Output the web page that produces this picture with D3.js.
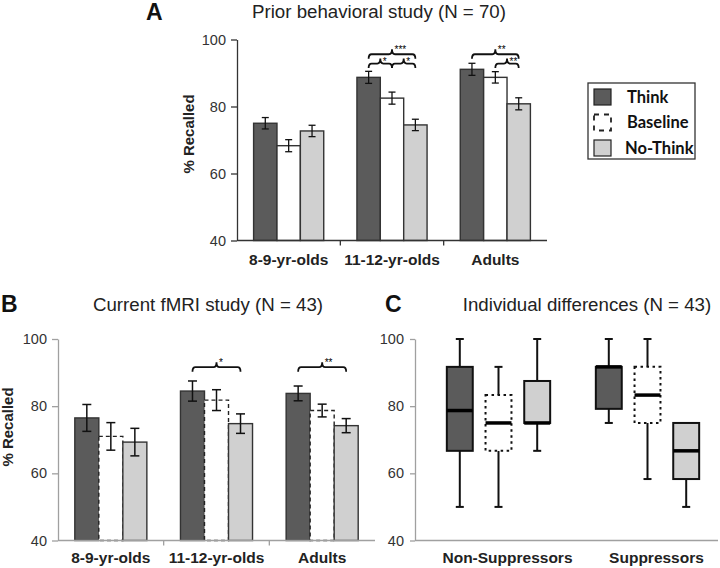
<!DOCTYPE html>
<html><head><meta charset="utf-8">
<script src="https://cdn.jsdelivr.net/npm/d3@7"></script>
<style>body{margin:0;background:#fff}svg{display:block}</style>
</head><body>
<svg id="chart" width="720" height="568"></svg>
<script>
// ---------- data ----------
const groups = ["8-9-yr-olds", "11-12-yr-olds", "Adults"];
const conditions = ["Think", "Baseline", "No-Think"];
const yTicks = [40, 60, 80, 100];

// Panel A: prior behavioral study (N = 70)
const priorThink = [75.0, 88.7, 91.1];
const priorBaseline = [68.3, 82.5, 88.7];
const priorNoThink = [72.7, 74.5, 80.8];
const priorThinkErr = [1.7, 1.8, 1.8];
const priorBaselineErr = [1.8, 1.8, 1.7];
const priorNoThinkErr = [1.7, 1.7, 1.8];
const priorSig = [
  {group: "11-12-yr-olds", from: "Think", to: "No-Think", level: 2, label: "***"},
  {group: "11-12-yr-olds", from: "Think", to: "Baseline", level: 1, label: "*"},
  {group: "11-12-yr-olds", from: "Baseline", to: "No-Think", level: 1, label: "*"},
  {group: "Adults", from: "Think", to: "No-Think", level: 2, label: "**"},
  {group: "Adults", from: "Baseline", to: "No-Think", level: 1, label: "**"}
];

// Panel B: current fMRI study (N = 43)
const fmriThink = [76.5, 84.5, 83.8];
const fmriBaseline = [71.0, 81.8, 78.7];
const fmriNoThink = [69.3, 74.8, 74.2];
const fmriThinkErr = [4.0, 3.0, 2.2];
const fmriBaselineErr = [4.1, 3.1, 1.9];
const fmriNoThinkErr = [4.1, 2.9, 2.1];
const fmriSig = [
  {group: "11-12-yr-olds", from: "Think", to: "No-Think", level: 2, label: "*"},
  {group: "Adults", from: "Think", to: "No-Think", level: 2, label: "**"}
];

// Panel C: individual differences, box plots [min, q1, median, q3, max]
const boxGroups = ["Non-Suppressors", "Suppressors"];
const boxThink = [[50, 66.7, 78.7, 91.7, 100], [75, 79.2, 91.7, 91.7, 100]];
const boxBaseline = [[50, 66.7, 75, 83.3, 91.7], [58.3, 75, 83.3, 91.7, 100]];
const boxNoThink = [[66.7, 75, 75, 87.5, 100], [50, 58.3, 66.7, 75, 75]];

// ---------- styles ----------
const fillColor = {"Think": "#5b5b5b", "Baseline": "#ffffff", "No-Think": "#d0d0d0"};
const svg = d3.select("#chart");
const SANS = "Liberation Sans, Arial, sans-serif";

function bracePath(x1, x2, y, drop, rise) {
  const xm = (x1 + x2) / 2, r = 3;
  return `M${x1},${y + drop} Q${x1},${y} ${x1 + r},${y} L${xm - r},${y} Q${xm},${y} ${xm},${y - rise}` +
         ` Q${xm},${y} ${xm + r},${y} L${x2 - r},${y} Q${x2},${y} ${x2},${y + drop}`;
}

function barPanel(o) {
  const g = svg.append("g");
  const y = d3.scaleLinear().domain([40, 100]).range([o.yBottom, o.yTop]);
  const x0 = d3.scaleBand().domain(groups).range([o.xLeft, o.xRight]).padding(0);
  const x1 = d3.scaleBand().domain(conditions).range([0, x0.bandwidth()]).paddingInner(0).paddingOuter(o.outerPad);

  const rows = [];
  groups.forEach((grp, i) => {
    conditions.forEach((c, j) => {
      rows.push({group: grp, cond: c, v: o.means[j][i], e: o.errs[j][i]});
    });
  });

  // bars
  g.selectAll("rect.bar").data(rows).join("rect")
    .attr("x", d => x0(d.group) + x1(d.cond))
    .attr("y", d => y(d.v))
    .attr("width", x1.bandwidth())
    .attr("height", d => y(40) - y(d.v))
    .attr("fill", d => fillColor[d.cond])
    .attr("stroke", d => (o.dashBaseline && d.cond === "Baseline") ? "#222" : "#333")
    .attr("stroke-width", 1.4)
    .attr("stroke-dasharray", d => (o.dashBaseline && d.cond === "Baseline") ? "4,3" : null);

  // error bars
  const cx = d => x0(d.group) + x1(d.cond) + x1.bandwidth() / 2;
  const cap = o.capHalf;
  const eb = g.selectAll("g.eb").data(rows).join("g").attr("stroke", "#111").attr("stroke-width", o.ebWidth);
  eb.append("line").attr("x1", cx).attr("x2", cx).attr("y1", d => y(d.v + d.e)).attr("y2", d => y(d.v - d.e));
  eb.append("line").attr("x1", d => cx(d) - cap).attr("x2", d => cx(d) + cap).attr("y1", d => y(d.v + d.e)).attr("y2", d => y(d.v + d.e));
  eb.append("line").attr("x1", d => cx(d) - cap).attr("x2", d => cx(d) + cap).attr("y1", d => y(d.v - d.e)).attr("y2", d => y(d.v - d.e));

  // y axis
  const ya = g.append("g").attr("transform", `translate(${o.xLeft},0)`)
    .call(d3.axisLeft(y).tickValues(yTicks).tickSize(6).tickSizeOuter(0).tickPadding(5));
  ya.select(".domain").attr("stroke", o.axisColor).attr("stroke-width", 1.3);
  ya.selectAll(".tick line").attr("stroke", o.axisColor).attr("stroke-width", 1.3);
  ya.selectAll(".tick text").attr("font-family", SANS).attr("font-size", 14.5).attr("fill", "#333");

  // x axis
  g.append("line").attr("x1", o.xLeft).attr("x2", o.xRight).attr("y1", y(40)).attr("y2", y(40))
    .attr("stroke", o.axisColor).attr("stroke-width", 1.3);
  g.selectAll("line.xt").data(groups.slice(1)).join("line")
    .attr("x1", d => x0(d)).attr("x2", d => x0(d)).attr("y1", y(40)).attr("y2", y(40) + 5)
    .attr("stroke", o.axisColor).attr("stroke-width", 1.3);
  g.selectAll("text.cat").data(groups).join("text")
    .attr("x", d => x0(d) + x0.bandwidth() / 2).attr("y", o.catY)
    .attr("text-anchor", "middle").attr("font-family", SANS).attr("font-weight", "bold")
    .attr("font-size", 15.5).attr("fill", "#222").text(d => d);

  // y label
  g.append("text").attr("transform", `translate(${o.ylabX},${o.ylabY}) rotate(-90)`)
    .attr("text-anchor", "middle").attr("font-family", SANS).attr("font-weight", "bold")
    .attr("font-size", 15).attr("fill", "#222").text("% Recalled");

  // significance braces
  const levelVal = {1: o.sigLevel1, 2: o.sigLevel2};
  const bc = (grp, c) => x0(grp) + x1(c) + x1.bandwidth() / 2;
  o.sig.forEach(s => {
    const xa = bc(s.group, s.from), xb = bc(s.group, s.to), yy = y(levelVal[s.level]);
    g.append("path").attr("d", bracePath(xa, xb, yy, 4.5, 5))
      .attr("fill", "none").attr("stroke", "#111").attr("stroke-width", 1.8);
    g.append("text").attr("x", (xa + xb) / 2 + 2.5).attr("y", yy + (s.level === 2 ? -1 : 1.5))
      .attr("font-family", SANS).attr("font-size", 10).attr("fill", "#000").text(s.label);
  });
  return {x0, x1, y};
}

// ---------- Panel A ----------
barPanel({
  xLeft: 237, xRight: 547, yTop: 39.5, yBottom: 240.5, outerPad: 0.71,
  means: [priorThink, priorBaseline, priorNoThink],
  errs: [priorThinkErr, priorBaselineErr, priorNoThinkErr],
  dashBaseline: false, axisColor: "#333", catY: 265, ylabX: 194, ylabY: 134,
  capHalf: 3.5, ebWidth: 1.3,
  sig: priorSig, sigLevel1: 92.8, sigLevel2: 95.6
});
svg.append("text").attr("x", 146).attr("y", 20).attr("font-family", SANS).attr("font-weight", "bold")
  .attr("font-size", 23).attr("fill", "#111").text("A");
svg.append("text").attr("x", 379).attr("y", 18).attr("text-anchor", "middle").attr("font-family", SANS)
  .attr("font-size", 18.7).attr("fill", "#222").text("Prior behavioral study (N = 70)");

// legend
const leg = svg.append("g");
leg.append("rect").attr("x", 588).attr("y", 83).attr("width", 107).attr("height", 76)
  .attr("fill", "#fff").attr("stroke", "#333").attr("stroke-width", 1.3);
const legY = d3.scalePoint().domain(conditions).range([97, 148]);
leg.selectAll("rect.sw").data(conditions).join("rect")
  .attr("x", 594).attr("y", d => legY(d) - 8).attr("width", 17).attr("height", 16)
  .attr("fill", d => fillColor[d] === "#ffffff" ? "none" : fillColor[d])
  .attr("stroke", "#222").attr("stroke-width", d => d === "Baseline" ? 1.8 : 1.2)
  .attr("stroke-dasharray", d => d === "Baseline" ? "5,5" : null);
leg.selectAll("text").data(conditions).join("text")
  .attr("x", d => d === "No-Think" ? 625 : 627).attr("y", d => legY(d) + 5.5)
  .attr("font-family", "Lato, sans-serif").attr("font-weight", "bold").attr("font-size", 16.5)
  .attr("fill", "#111").text(d => d);

// ---------- Panel B ----------
barPanel({
  xLeft: 58, xRight: 375, yTop: 339, yBottom: 540.5, outerPad: 0.70,
  means: [fmriThink, fmriBaseline, fmriNoThink],
  errs: [fmriThinkErr, fmriBaselineErr, fmriNoThinkErr],
  dashBaseline: true, axisColor: "#a0a0a0", catY: 563, ylabX: 13, ylabY: 427,
  capHalf: 4.5, ebWidth: 1.5,
  sig: fmriSig, sigLevel1: 91.6, sigLevel2: 91.6
});
svg.append("text").attr("x", 1).attr("y", 312).attr("font-family", SANS).attr("font-weight", "bold")
  .attr("font-size", 23).attr("fill", "#111").text("B");
svg.append("text").attr("x", 208).attr("y", 311).attr("text-anchor", "middle").attr("font-family", SANS)
  .attr("font-size", 18.7).attr("fill", "#222").text("Current fMRI study (N = 43)");

// ---------- Panel C ----------
(function () {
  const g = svg.append("g");
  const y = d3.scaleLinear().domain([40, 100]).range([540.5, 339]);
  const xg = d3.scaleBand().domain(boxGroups).range([424, 722]).padding(0);
  const xc = d3.scaleBand().domain(conditions).range([0, xg.bandwidth()]).paddingInner(0.33).paddingOuter(0.59);
  const sets = [boxThink, boxBaseline, boxNoThink];
  const rows = [];
  boxGroups.forEach((grp, i) => conditions.forEach((c, j) => {
    const s = sets[j][i];
    rows.push({group: grp, cond: c, min: s[0], q1: s[1], med: s[2], q3: s[3], max: s[4]});
  }));
  const bx = d => xg(d.group) + xc(d.cond);
  const mid = d => bx(d) + xc.bandwidth() / 2;

  // whiskers
  const w = g.selectAll("g.wh").data(rows).join("g").attr("stroke", "#111").attr("stroke-width", 2);
  w.append("line").attr("x1", mid).attr("x2", mid).attr("y1", d => y(d.max)).attr("y2", d => y(d.q3));
  w.append("line").attr("x1", mid).attr("x2", mid).attr("y1", d => y(d.q1)).attr("y2", d => y(d.min));
  w.filter(d => d.max > d.q3).append("line").attr("x1", d => mid(d) - 4).attr("x2", d => mid(d) + 4)
    .attr("y1", d => y(d.max)).attr("y2", d => y(d.max));
  w.filter(d => d.min < d.q1).append("line").attr("x1", d => mid(d) - 4).attr("x2", d => mid(d) + 4)
    .attr("y1", d => y(d.min)).attr("y2", d => y(d.min));

  // boxes
  g.selectAll("rect.box").data(rows).join("rect")
    .attr("x", bx).attr("width", xc.bandwidth())
    .attr("y", d => y(d.q3)).attr("height", d => y(d.q1) - y(d.q3))
    .attr("fill", d => fillColor[d.cond])
    .attr("stroke", "#111").attr("stroke-width", 2)
    .attr("stroke-dasharray", d => d.cond === "Baseline" ? "2.5,3.5" : null);
  // medians
  g.selectAll("line.med").data(rows).join("line")
    .attr("x1", bx).attr("x2", d => bx(d) + xc.bandwidth())
    .attr("y1", d => y(d.med)).attr("y2", d => y(d.med))
    .attr("stroke", "#000").attr("stroke-width", 3.5);

  // axes
  const ya = g.append("g").attr("transform", "translate(415,0)")
    .call(d3.axisLeft(y).tickValues(yTicks).tickSize(5).tickSizeOuter(0).tickPadding(6));
  ya.select(".domain").attr("stroke", "#a0a0a0").attr("stroke-width", 1.3);
  ya.selectAll(".tick line").attr("stroke", "#a0a0a0").attr("stroke-width", 1.3);
  ya.selectAll(".tick text").attr("font-family", SANS).attr("font-size", 14.5).attr("fill", "#333");
  g.append("line").attr("x1", 415).attr("x2", 718).attr("y1", y(40)).attr("y2", y(40))
    .attr("stroke", "#a0a0a0").attr("stroke-width", 1.3);
  g.selectAll("text.cat").data(boxGroups).join("text")
    .attr("x", d => xg(d) + xg.bandwidth() / 2 + 9).attr("y", 563)
    .attr("text-anchor", "middle").attr("font-family", SANS).attr("font-weight", "bold")
    .attr("font-size", 15.5).attr("fill", "#222").text(d => d);
})();
svg.append("text").attr("x", 385).attr("y", 312).attr("font-family", SANS).attr("font-weight", "bold")
  .attr("font-size", 23).attr("fill", "#111").text("C");
svg.append("text").attr("x", 587).attr("y", 311).attr("text-anchor", "middle").attr("font-family", SANS)
  .attr("font-size", 18.7).attr("fill", "#222").text("Individual differences (N = 43)");
</script>
</body></html>
